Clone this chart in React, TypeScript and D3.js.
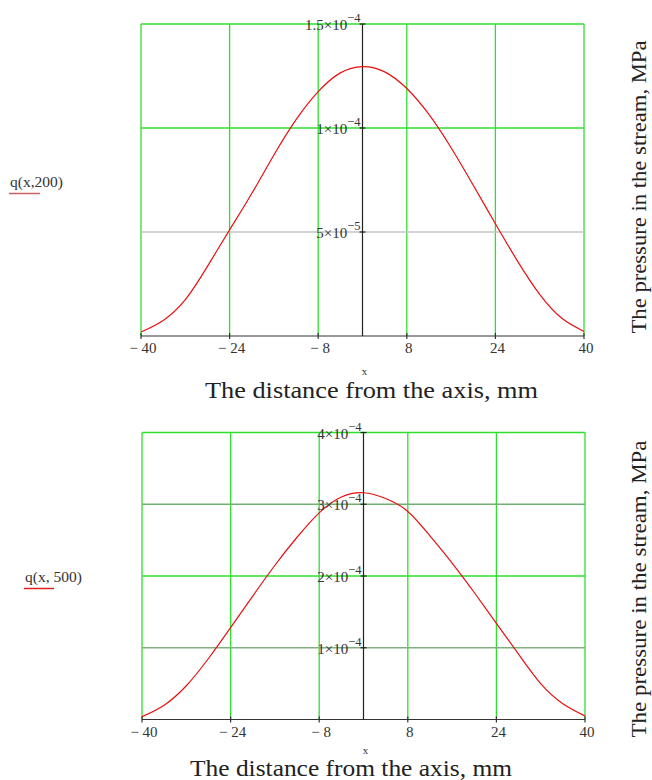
import React from "react";
import * as d3 from "d3";

// ---- data ----
const xValues = [-40, -36, -32, -28, -24, -20, -16, -12, -8, -4, 0, 4, 8, 12, 16, 20, 24, 28, 32, 36, 40];
const q200 = [0.19e-5, 0.75e-5, 1.75e-5, 3.35e-5, 5.1e-5, 6.85e-5, 8.7e-5, 10.4e-5, 11.75e-5, 12.65e-5, 12.95e-5, 12.7e-5, 11.9e-5, 10.65e-5, 9.05e-5, 7.25e-5, 5.4e-5, 3.6e-5, 2.0e-5, 0.85e-5, 0.22e-5];
const q500 = [0.04e-4, 0.2e-4, 0.47e-4, 0.85e-4, 1.28e-4, 1.72e-4, 2.15e-4, 2.54e-4, 2.88e-4, 3.1e-4, 3.16e-4, 3.08e-4, 2.9e-4, 2.56e-4, 2.18e-4, 1.77e-4, 1.34e-4, 0.91e-4, 0.5e-4, 0.22e-4, 0.05e-4];

const xTicks = [-40, -24, -8, 8, 24, 40];
const xTickLabels = ["\u2212 40", "\u2212 24", "\u2212 8", "8", "24", "40"];

const topYTicks = [5e-5, 1e-4, 1.5e-4];
const topYMantissa = ["5", "1", "1.5"];
const topYExponent = ["\u22125", "\u22124", "\u22124"];
const topYMax = 1.5e-4;

const botYTicks = [1e-4, 2e-4, 3e-4, 4e-4];
const botYMantissa = ["1", "2", "3", "4"];
const botYExponent = ["\u22124", "\u22124", "\u22124", "\u22124"];
const botYMax = 4e-4;

const xTitle = "The distance from the axis, mm";
const yTitle = "The pressure in the stream, MPa";

const GREEN = "#2ee02e";
const TEXT = "#333";
const FONT = "'Liberation Serif', 'Times New Roman', serif";

type PanelProps = {
  values: number[];
  yMax: number;
  yTicks: number[];
  mant: string[];
  expo: string[];
  gridColors: string[];
  x0: number; x1: number; yTop: number; yBot: number;
  fnLabel: string; fnX: number; fnY: number; fnUnderlineW: number; fnUnderlineColor: string;
  xLabelY: number; xVarY: number; titleY: number; titleX: number; titleLen: number;
  rightX: number; rightY: number; rightLen: number;
};

function Panel(p: PanelProps) {
  const x = d3.scaleLinear().domain([-40, 40]).range([p.x0, p.x1]);
  const y = d3.scaleLinear().domain([0, p.yMax]).range([p.yBot, p.yTop]);
  const line = d3
    .line<number>()
    .x((_, i) => x(xValues[i]))
    .y((d) => y(d))
    .curve(d3.curveNatural);
  const ax = x(0);
  return (
    <g>
      {xTicks.map((t) => (
        <line key={"vg" + t} x1={x(t)} x2={x(t)} y1={p.yTop} y2={p.yBot} stroke={GREEN} strokeWidth={1.3} />
      ))}
      {p.yTicks.map((t, i) => (
        <line key={"hg" + t} x1={p.x0} x2={p.x1} y1={y(t)} y2={y(t)} stroke={p.gridColors[i]} strokeWidth={1.3} />
      ))}
      <line x1={p.x0} x2={p.x1} y1={p.yBot} y2={p.yBot} stroke="#333" strokeWidth={1.2} />
      {xTicks.map((t) => (
        <line key={"xt" + t} x1={x(t)} x2={x(t)} y1={p.yBot - 3} y2={p.yBot + 3} stroke="#333" strokeWidth={1.2} />
      ))}
      <line x1={ax} x2={ax} y1={p.yTop} y2={p.yBot} stroke="#222" strokeWidth={1.2} />
      {p.yTicks.map((t) => (
        <line key={"yt" + t} x1={ax - 3} x2={ax + 3} y1={y(t)} y2={y(t)} stroke="#222" strokeWidth={1.2} />
      ))}
      <path d={line(p.values) || ""} fill="none" stroke="#e81010" strokeWidth={1.2} />
      {p.yTicks.map((t, i) => (
        <text key={"yl" + t} x={ax - 2} y={y(t) + 6} textAnchor="end" fontFamily={FONT} fontSize={15} fill={TEXT}>
          <tspan>{p.mant[i] + "\u00d710"}</tspan>
          <tspan dy={-8} fontSize={12.5}>{p.expo[i]}</tspan>
        </text>
      ))}
      {xTicks.map((t, i) => (
        <text key={"xl" + t} x={x(t) + 2} y={p.xLabelY} textAnchor="middle" fontFamily={FONT} fontSize={15} fill={TEXT}>
          {xTickLabels[i]}
        </text>
      ))}
      <text x={ax + 2} y={p.xVarY} textAnchor="middle" fontFamily={FONT} fontSize={11} fill={TEXT}>x</text>
      <text x={p.titleX} y={p.titleY} fontFamily={FONT} fontSize={23} fill="#222" textLength={p.titleLen} lengthAdjust="spacingAndGlyphs">
        {xTitle}
      </text>
      <text
        transform={`translate(${p.rightX},${p.rightY}) rotate(-90)`}
        textAnchor="middle"
        fontFamily={FONT}
        fontSize={22}
        fill="#222"
        textLength={p.rightLen}
        lengthAdjust="spacingAndGlyphs"
      >
        {yTitle}
      </text>
      <text x={p.fnX} y={p.fnY} fontFamily={FONT} fontSize={15.5} fill={TEXT}>{p.fnLabel}</text>
      <line x1={p.fnX - 1} x2={p.fnX - 1 + p.fnUnderlineW} y1={p.fnY + 7} y2={p.fnY + 7} stroke={p.fnUnderlineColor} strokeWidth={1.5} />
    </g>
  );
}

export default function App() {
  return (
    <svg width={652} height={780} style={{ position: "absolute", left: 0, top: 0, background: "#fff" }}>
      <rect width={652} height={780} fill="#fff" />
      <Panel
        values={q200}
        yMax={topYMax}
        yTicks={topYTicks}
        mant={topYMantissa}
        expo={topYExponent}
        gridColors={["#c4c4c4", GREEN, GREEN]}
        x0={141} x1={584} yTop={24} yBot={336}
        fnLabel="q(x,200)" fnX={10} fnY={186.5} fnUnderlineW={31} fnUnderlineColor="#c86060"
        xLabelY={353} xVarY={375} titleX={205} titleY={397.5} titleLen={333}
        rightX={646} rightY={187} rightLen={293}
      />
      <Panel
        values={q500}
        yMax={botYMax}
        yTicks={botYTicks}
        mant={botYMantissa}
        expo={botYExponent}
        gridColors={["#80b080", GREEN, "#70b070", GREEN]}
        x0={142} x1={585} yTop={432.5} yBot={719.5}
        fnLabel="q(x, 500)" fnX={25} fnY={581.5} fnUnderlineW={30} fnUnderlineColor="#e02020"
        xLabelY={736.5} xVarY={754} titleX={190} titleY={776} titleLen={322}
        rightX={646} rightY={589} rightLen={297}
      />
    </svg>
  );
}
